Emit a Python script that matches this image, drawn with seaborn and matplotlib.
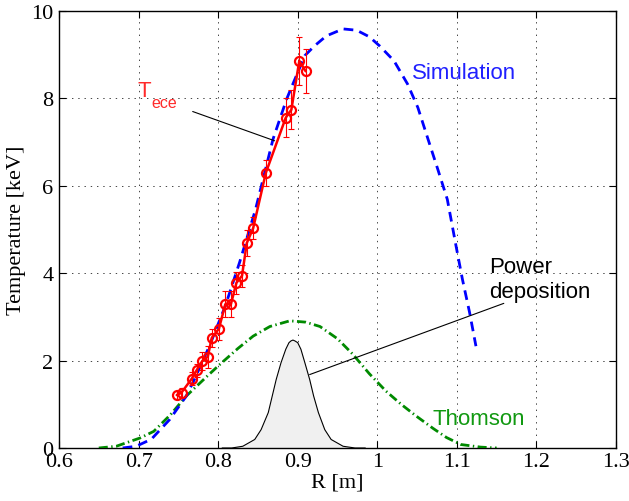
import matplotlib
matplotlib.use("Agg")
import matplotlib.pyplot as plt
import seaborn as sns

# ---- data ----
tece_r = [0.748, 0.754, 0.767, 0.773, 0.780, 0.787, 0.792, 0.801, 0.809, 0.816,
          0.823, 0.830, 0.836, 0.844, 0.860, 0.885, 0.892, 0.902, 0.910]
tece_t = [1.21, 1.27, 1.59, 1.78, 1.99, 2.09, 2.52, 2.73, 3.29, 3.29,
          3.78, 3.94, 4.69, 5.03, 6.30, 7.56, 7.74, 8.86, 8.62]
tece_err = [0.10, 0.10, 0.15, 0.15, 0.20, 0.25, 0.20, 0.25, 0.30, 0.30,
            0.25, 0.25, 0.30, 0.25, 0.30, 0.45, 0.45, 0.55, 0.50]

sim_r = [0.680, 0.697, 0.716, 0.739, 0.760, 0.772, 0.789, 0.809, 0.827, 0.847,
         0.869, 0.886, 0.893, 0.909, 0.921, 0.936, 0.957, 0.974, 0.990, 1.003,
         1.021, 1.038, 1.051, 1.063, 1.076, 1.088, 1.099, 1.107, 1.116, 1.124]
sim_t = [0.00, 0.04, 0.20, 0.65, 1.19, 1.64, 2.33, 3.25, 4.25, 5.46,
         7.07, 7.98, 8.29, 8.98, 9.20, 9.43, 9.59, 9.56, 9.41, 9.20,
         8.86, 8.33, 7.79, 7.11, 6.38, 5.69, 4.62, 3.86, 3.10, 2.33]

thom_r = [0.650, 0.672, 0.702, 0.719, 0.740, 0.760, 0.786, 0.802, 0.825, 0.844,
          0.865, 0.890, 0.910, 0.928, 0.950, 0.969, 0.990, 1.011, 1.030, 1.049,
          1.070, 1.087, 1.105, 1.130, 1.150]
thom_t = [0.00, 0.04, 0.23, 0.38, 0.76, 1.19, 1.64, 1.91, 2.28, 2.56,
          2.78, 2.91, 2.88, 2.78, 2.50, 2.15, 1.70, 1.30, 1.00, 0.73,
          0.45, 0.24, 0.08, 0.02, 0.00]

pow_r = [0.805, 0.817, 0.831, 0.846, 0.854, 0.863, 0.868, 0.873, 0.879, 0.885,
         0.889, 0.8915, 0.894, 0.8965, 0.900, 0.904, 0.909, 0.915, 0.920, 0.926,
         0.934, 0.942, 0.957, 0.972, 0.985]
pow_p = [0.00, 0.00, 0.04, 0.195, 0.42, 0.81, 1.19, 1.57, 1.95, 2.26,
         2.41, 2.45, 2.47, 2.45, 2.41, 2.26, 1.95, 1.57, 1.19, 0.81,
         0.42, 0.195, 0.04, 0.00, 0.00]

x_ticks = [0.6, 0.7, 0.8, 0.9, 1.0, 1.1, 1.2, 1.3]
x_ticklabels = ["0.6", "0.7", "0.8", "0.9", "1", "1.1", "1.2", "1.3"]
y_ticks = [0, 2, 4, 6, 8, 10]

# ---- style ----
sns.set_theme(style="ticks")
plt.rcParams["font.family"] = ["Liberation Serif", "DejaVu Serif"]
plt.rcParams["lines.scale_dashes"] = False
plt.rcParams["text.color"] = "black"
plt.rcParams["axes.labelcolor"] = "black"
plt.rcParams["xtick.color"] = "black"
plt.rcParams["ytick.color"] = "black"

fig = plt.figure(figsize=(6.29, 5.02), dpi=100)
ax = fig.add_axes([59 / 629, 53 / 502, 557 / 629, 437 / 502])

# power deposition (filled)
ax.fill_between(pow_r, pow_p, color="#f0f0f0", zorder=2, linewidth=0)
sns.lineplot(x=pow_r, y=pow_p, ax=ax, color="black", linewidth=0.8,
             estimator=None, sort=False, zorder=3)

# Thomson
sns.lineplot(x=thom_r, y=thom_t, ax=ax, color="#008a00", linewidth=2.0,
             estimator=None, sort=False, zorder=4)
ax.lines[-1].set_dashes((6.5, 2.5, 1.0, 2.5))

# Simulation
sns.lineplot(x=sim_r, y=sim_t, ax=ax, color="#0000ff", linewidth=2.0,
             estimator=None, sort=False, zorder=5)
ax.lines[-1].set_dashes((7.0, 4.5))

# Tece
ax.errorbar(tece_r, tece_t, yerr=tece_err, fmt="none", ecolor="#ff0000",
            elinewidth=0.8, capsize=2.0, capthick=0.8, zorder=6)
sns.lineplot(x=tece_r, y=tece_t, ax=ax, color="#ff0000", linewidth=1.8,
             marker="o", markersize=6.5, markerfacecolor="none",
             markeredgecolor="#ff0000", markeredgewidth=1.6,
             estimator=None, sort=False, zorder=7)

# axes
ax.set_xlim(0.6, 1.3)
ax.set_ylim(0, 10)
ax.set_xticks(x_ticks)
ax.set_xticklabels(x_ticklabels)
ax.set_yticks(y_ticks)
ax.tick_params(direction="in", length=5, width=0.8, top=True, right=True,
               labelsize=16, pad=3, colors="black", labelcolor="black")
ax.tick_params(axis="y", pad=4)
for s in ax.spines.values():
    s.set_visible(True)
    s.set_linewidth(1.0)
    s.set_color("black")
ax.grid(True, linestyle=(0, (1, 3.5)), color="#444444", linewidth=0.7)
ax.set_axisbelow(True)
ax.set_xlabel("R [m]", fontsize=16, labelpad=1, color="black")
ax.set_ylabel("Temperature [keV]", fontsize=16, labelpad=4, color="black")

sans = ["Liberation Sans", "DejaVu Sans"]
# annotations
ax.text(0.699, 8.06, "T", color="#ff2a2a", fontsize=16,
        family=sans, ha="left", va="baseline", zorder=8)
ax.text(0.7166, 7.80, "ece", color="#ff2a2a", fontsize=11.5,
        family=sans, ha="left", va="baseline", zorder=8)
ax.plot([0.768, 0.871], [7.70, 7.03], color="black", linewidth=0.8, zorder=8)

ax.text(1.043, 8.46, "Simulation", color="#2020ff", fontsize=16,
        family=sans, ha="left", va="baseline", zorder=8)

ax.text(1.140, 4.03, "Power", color="black", fontsize=16,
        family=sans, ha="left", va="baseline", zorder=8)
ax.text(1.140, 3.45, "deposition", color="black", fontsize=16,
        family=sans, ha="left", va="baseline", zorder=8)
ax.plot([1.159, 0.915], [3.31, 1.68], color="black", linewidth=0.8, zorder=8)

ax.text(1.070, 0.54, "Thomson", color="#119911", fontsize=16,
        family=sans, ha="left", va="baseline", zorder=8)

fig.savefig("out.png", dpi=100)
